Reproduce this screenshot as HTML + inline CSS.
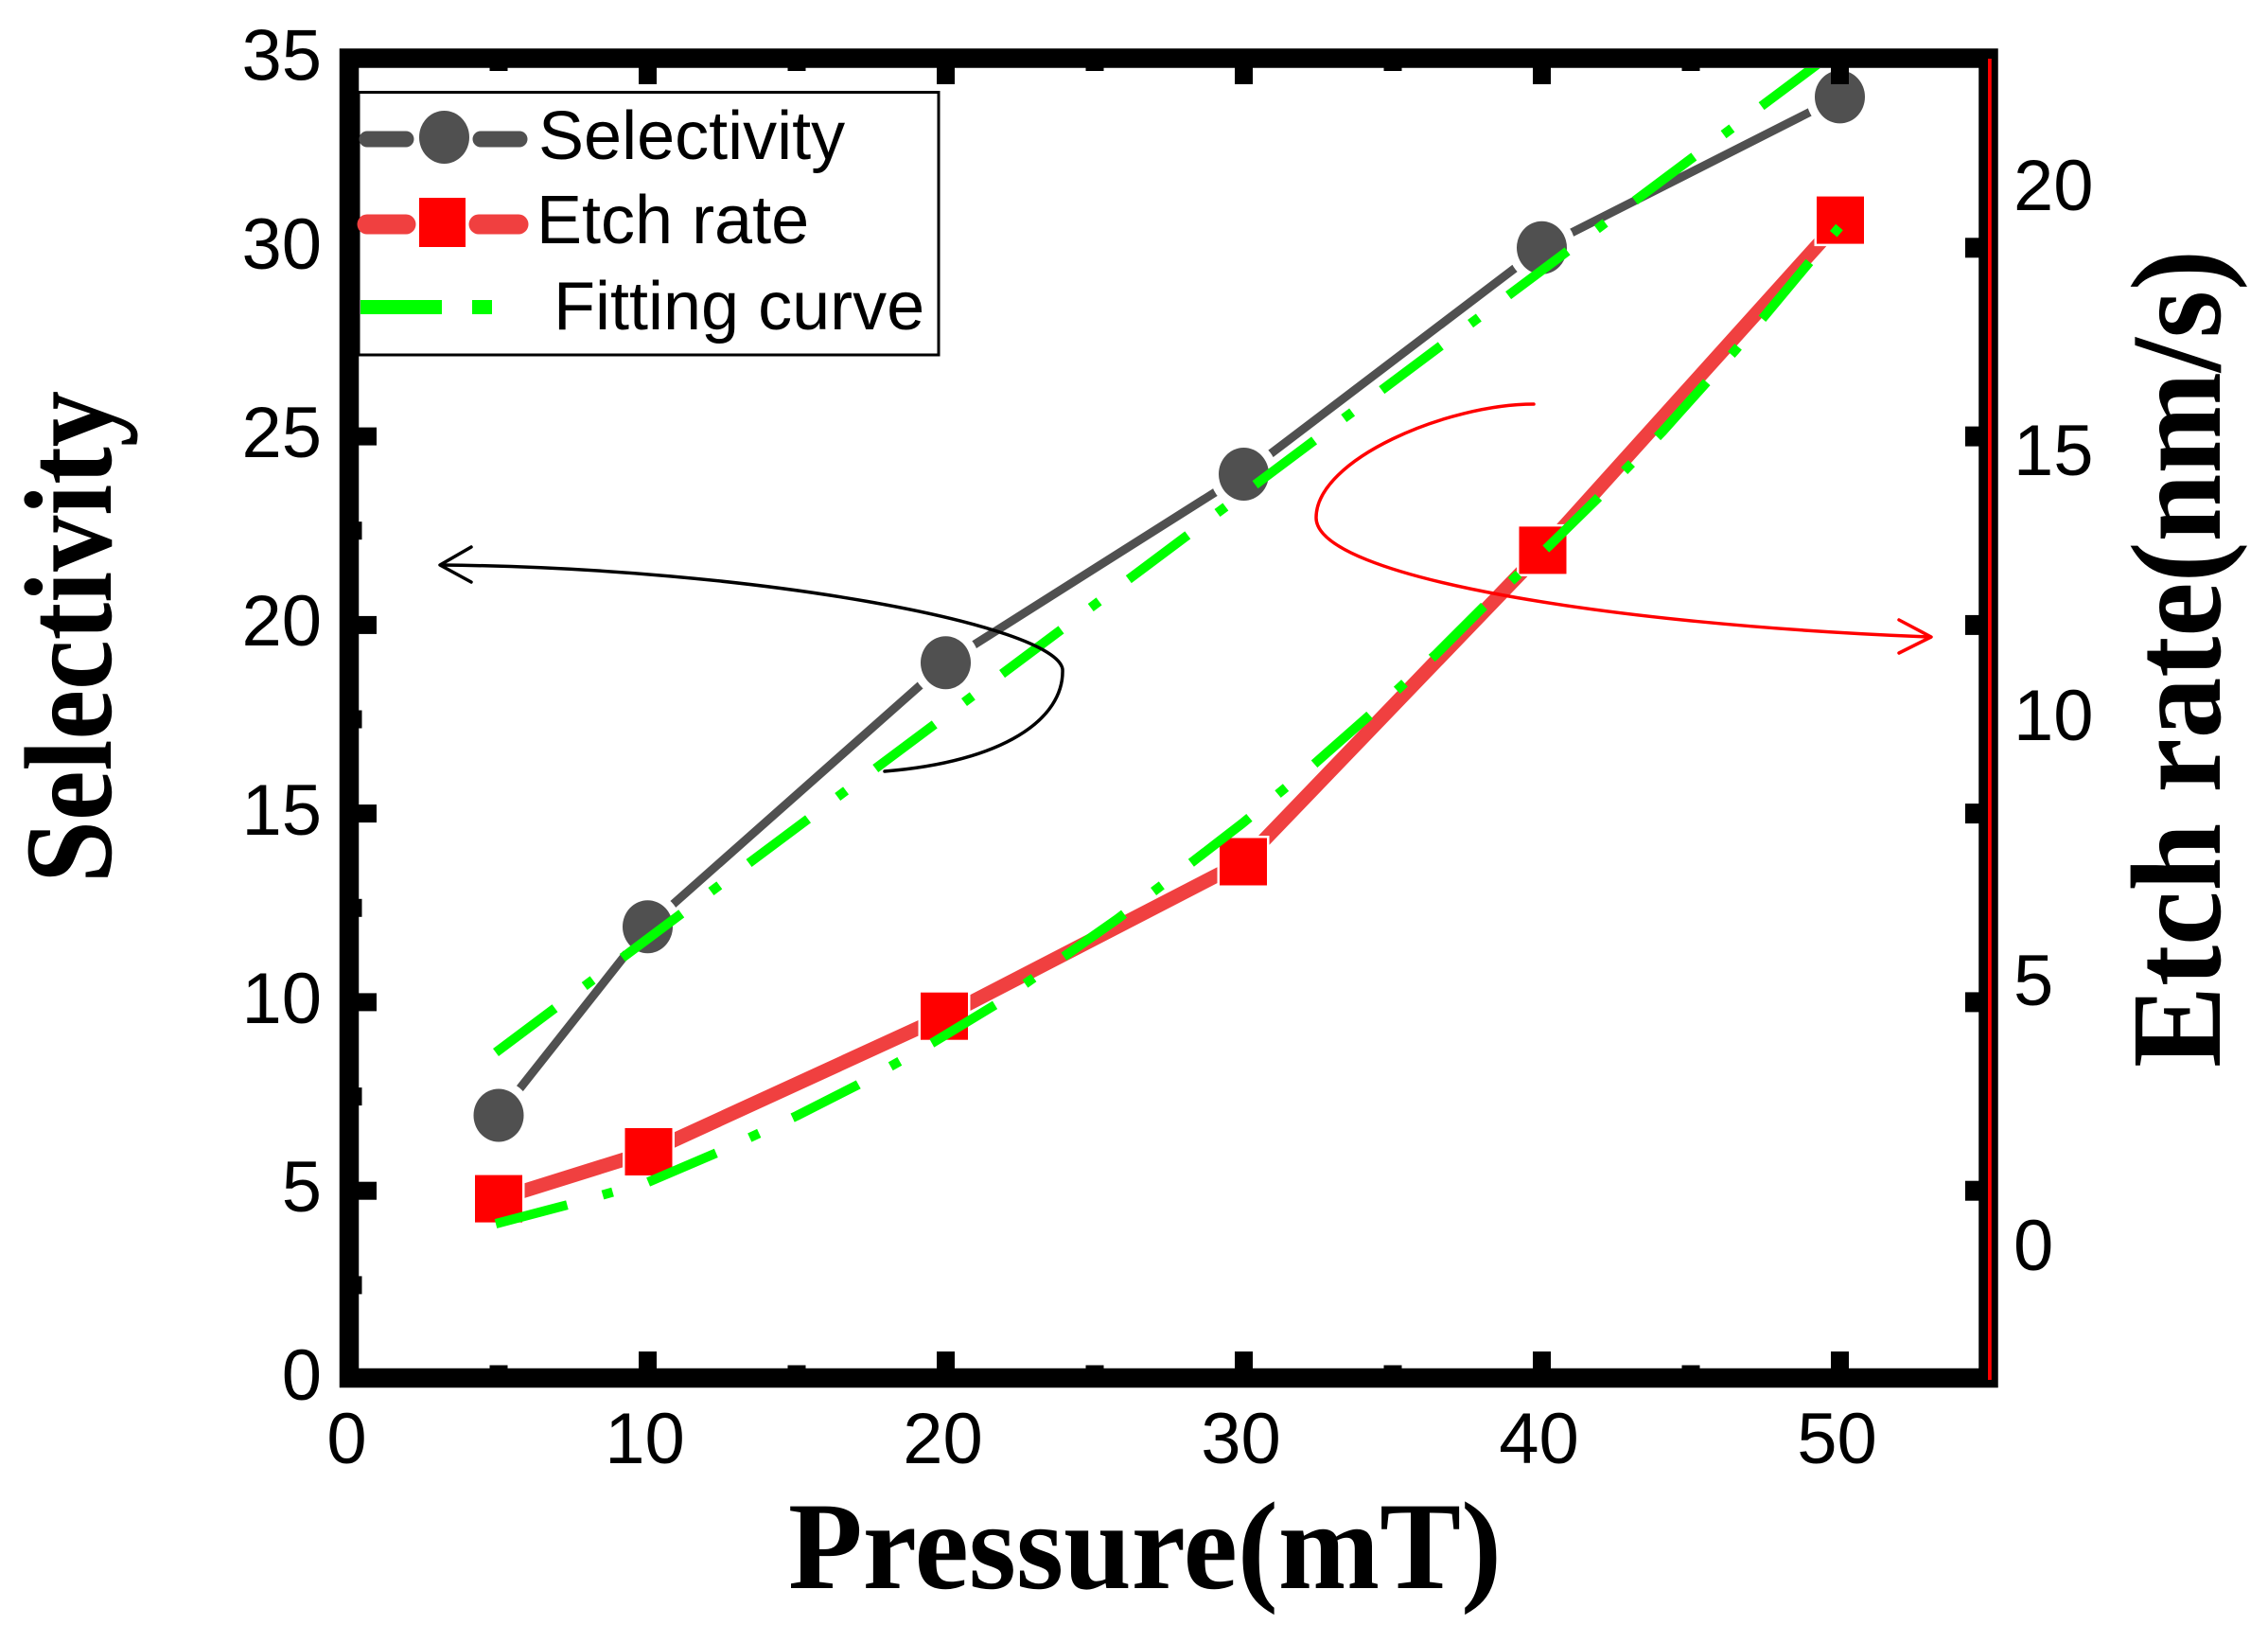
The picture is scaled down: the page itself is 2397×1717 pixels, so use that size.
<!DOCTYPE html>
<html>
<head>
<meta charset="utf-8">
<style>
  html, body { margin: 0; padding: 0; background: #ffffff; }
  svg { display: block; }
  .tick { font-family: "Liberation Sans", Arial, sans-serif; font-size: 76px; fill: #000; }
  .leg { font-family: "Liberation Sans", Arial, sans-serif; font-size: 72px; fill: #000; }
  .title { font-family: "Liberation Serif", "Times New Roman", serif; font-weight: bold; fill: #000; }
</style>
</head>
<body>
<svg width="2397" height="1717" viewBox="0 0 2397 1717" xmlns="http://www.w3.org/2000/svg">
  <defs>
    <clipPath id="plot">
      <rect x="379" y="72" width="1712" height="1374"/>
    </clipPath>
  </defs>
  <rect x="0" y="0" width="2397" height="1717" fill="#ffffff"/>

  <!-- Selectivity series -->
  <polyline points="527,1178.5 684.5,979.2 999.5,700.2 1314.5,501 1629.5,261.8 1944.5,102.4"
            fill="none" stroke="#505050" stroke-width="9" stroke-linejoin="round"/>
  <g fill="#505050" stroke="#ffffff" stroke-width="18" paint-order="stroke">
    <ellipse cx="527" cy="1178.5" rx="26.5" ry="28"/>
    <ellipse cx="684.5" cy="979.2" rx="26.5" ry="28"/>
    <ellipse cx="999.5" cy="700.2" rx="26.5" ry="28"/>
    <ellipse cx="1314.5" cy="501" rx="26.5" ry="28"/>
    <ellipse cx="1629.5" cy="261.8" rx="26.5" ry="28"/>
    <ellipse cx="1944.5" cy="102.4" rx="26.5" ry="28"/>
  </g>

  <!-- Etch rate series -->
  <polyline points="527,1266.6 685.5,1217 998,1073.7 1314,910.5 1630.5,581.4 1945,232.6"
            fill="none" stroke="#f04040" stroke-width="15" stroke-linejoin="round"/>
  <g fill="#ff0000" stroke="#ffffff" stroke-width="5" paint-order="stroke">
    <rect x="502" y="1241.6" width="50" height="50"/>
    <rect x="660.5" y="1192" width="50" height="50"/>
    <rect x="973" y="1048.7" width="50" height="50"/>
    <rect x="1289" y="885.5" width="50" height="50"/>
    <rect x="1605.5" y="556.4" width="50" height="50"/>
    <rect x="1920" y="207.6" width="50" height="50"/>
  </g>

  <!-- Fitting curves -->
  <g clip-path="url(#plot)" fill="none" stroke="#00ff00" stroke-width="10" stroke-dasharray="78 39 11 39">
    <line x1="524" y1="1112" x2="1944.5" y2="50.2"/>
    <polyline stroke-linejoin="round" points="524,1293 600,1273 685,1249 760,1217 842,1179 907,1146 987,1101 1053,1061 1124,1011 1181,971 1252,917 1313,870 1387,809 1446,757 1517,692 1568,641 1637,577 1689,526 1757,456 1834,370 1864,335 1914,275 1944,240"/>
  </g>

  <!-- Arrows -->
  <g fill="none" stroke="#000000" stroke-width="3.5" stroke-linecap="round" stroke-linejoin="round">
    <path d="M 935 815 C 1060 805, 1125 760, 1123 707 C 1115 660, 800 600, 466 597"/>
    <path d="M 498 578 L 465 597 L 498 615"/>
  </g>
  <g fill="none" stroke="#ff0000" stroke-width="3.5" stroke-linecap="round" stroke-linejoin="round">
    <path d="M 1621 427 C 1530 427, 1391 485, 1391 547 C 1391 610, 1700 660, 2039 673"/>
    <path d="M 2007 655 L 2041 673 L 2007 690"/>
  </g>

  <!-- Frame -->
  <rect x="369" y="61.5" width="1732.5" height="1394.5" fill="none" stroke="#000" stroke-width="20.5"/>
  <rect x="2101" y="62" width="3.8" height="1396" fill="#ff0000"/>

  <!-- Ticks -->
  <g fill="#000">
    <!-- left major -->
    <rect x="379" y="1248.7" width="19" height="19"/>
    <rect x="379" y="1049.4" width="19" height="19"/>
    <rect x="379" y="850.1" width="19" height="19"/>
    <rect x="379" y="650.9" width="19" height="19"/>
    <rect x="379" y="451.6" width="19" height="19"/>
    <rect x="379" y="252.3" width="19" height="19"/>
    <!-- left minor -->
    <rect x="379" y="1348.4" width="3.5" height="19"/>
    <rect x="379" y="1149.1" width="3.5" height="19"/>
    <rect x="379" y="949.8" width="3.5" height="19"/>
    <rect x="379" y="750.5" width="3.5" height="19"/>
    <rect x="379" y="551.2" width="3.5" height="19"/>
    <rect x="379" y="351.9" width="3.5" height="19"/>
    <rect x="379" y="152.6" width="3.5" height="19"/>
    <!-- bottom major -->
    <rect x="675" y="1428" width="19" height="18"/>
    <rect x="990" y="1428" width="19" height="18"/>
    <rect x="1305" y="1428" width="19" height="18"/>
    <rect x="1620" y="1428" width="19" height="18"/>
    <rect x="1935" y="1428" width="19" height="18"/>
    <!-- bottom minor -->
    <rect x="517.5" y="1442.5" width="19" height="3.5"/>
    <rect x="832.5" y="1442.5" width="19" height="3.5"/>
    <rect x="1147.5" y="1442.5" width="19" height="3.5"/>
    <rect x="1462.5" y="1442.5" width="19" height="3.5"/>
    <rect x="1777.5" y="1442.5" width="19" height="3.5"/>
    <!-- top major -->
    <rect x="675" y="71" width="19" height="18"/>
    <rect x="990" y="71" width="19" height="18"/>
    <rect x="1305" y="71" width="19" height="18"/>
    <rect x="1620" y="71" width="19" height="18"/>
    <rect x="1935" y="71" width="19" height="18"/>
    <!-- top minor -->
    <rect x="517.5" y="71" width="19" height="4"/>
    <rect x="832.5" y="71" width="19" height="4"/>
    <rect x="1147.5" y="71" width="19" height="4"/>
    <rect x="1462.5" y="71" width="19" height="4"/>
    <rect x="1777.5" y="71" width="19" height="4"/>
    <!-- right major -->
    <rect x="2077" y="251.3" width="15" height="21"/>
    <rect x="2077" y="450.6" width="15" height="21"/>
    <rect x="2077" y="649.9" width="15" height="21"/>
    <rect x="2077" y="849.1" width="15" height="21"/>
    <rect x="2077" y="1048.4" width="15" height="21"/>
    <rect x="2077" y="1247.7" width="15" height="21"/>
  </g>

  <!-- Legend -->
  <rect x="379" y="97.5" width="613" height="277.5" fill="#ffffff" stroke="#000" stroke-width="3"/>
  <g stroke="#505050" stroke-width="17" stroke-linecap="round">
    <line x1="388" y1="147" x2="429" y2="147"/>
    <line x1="508" y1="147" x2="549" y2="147"/>
  </g>
  <ellipse cx="469.5" cy="145" rx="26.5" ry="28" fill="#505050"/>
  <g stroke="#f04040" stroke-width="21" stroke-linecap="round">
    <line x1="388" y1="237" x2="429" y2="237"/>
    <line x1="506" y1="237" x2="548" y2="237"/>
  </g>
  <rect x="443" y="209" width="49" height="52" fill="#ff0000"/>
  <g stroke="#00ff00" stroke-width="15">
    <line x1="381" y1="324.5" x2="467" y2="324.5"/>
    <line x1="499" y1="324.5" x2="520" y2="324.5"/>
  </g>
  <text class="leg" x="569" y="168">Selectivity</text>
  <text class="leg" x="567" y="257">Etch rate</text>
  <text class="leg" x="585" y="348">Fitting curve</text>

  <!-- Left tick labels -->
  <g class="tick" text-anchor="end">
    <text x="340" y="1479">0</text>
    <text x="340" y="1280">5</text>
    <text x="340" y="1081">10</text>
    <text x="340" y="882">15</text>
    <text x="340" y="682">20</text>
    <text x="340" y="483">25</text>
    <text x="340" y="284">30</text>
    <text x="340" y="84.5">35</text>
  </g>
  <!-- Bottom tick labels -->
  <g class="tick" text-anchor="middle">
    <text x="366.5" y="1546">0</text>
    <text x="681.5" y="1546">10</text>
    <text x="996.5" y="1546">20</text>
    <text x="1311.5" y="1546">30</text>
    <text x="1626.5" y="1546">40</text>
    <text x="1941.5" y="1546">50</text>
  </g>
  <!-- Right tick labels -->
  <g class="tick" text-anchor="start">
    <text x="2128" y="222">20</text>
    <text x="2128" y="502">15</text>
    <text x="2128" y="782">10</text>
    <text x="2128" y="1062">5</text>
    <text x="2128" y="1342">0</text>
  </g>

  <!-- Axis titles -->
  <text class="title" font-size="132" text-anchor="middle" textLength="520" lengthAdjust="spacingAndGlyphs"
        transform="translate(117,673) rotate(-90)">Selectivity</text>
  <text class="title" font-size="136" text-anchor="middle" textLength="864" lengthAdjust="spacingAndGlyphs"
        transform="translate(2346,696) rotate(-90)">Etch rate(nm/s)</text>
  <text class="title" font-size="132" text-anchor="middle" textLength="754" lengthAdjust="spacingAndGlyphs"
        x="1210" y="1678">Pressure(mT)</text>
</svg>
</body>
</html>
